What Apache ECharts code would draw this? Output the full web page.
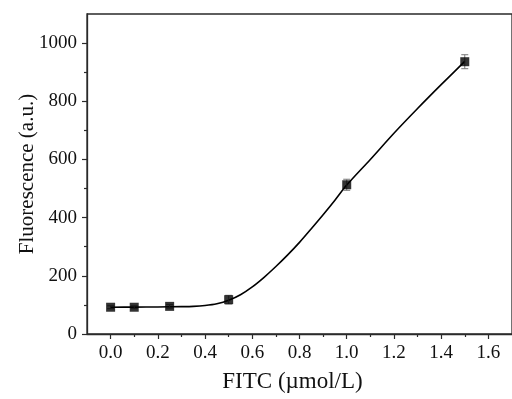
<!DOCTYPE html>
<html>
<head>
<meta charset="utf-8">
<script src="https://cdn.jsdelivr.net/npm/echarts@6/dist/echarts.min.js"></script>
<style>html,body{margin:0;padding:0;background:#fff}#c{width:512px;height:399px}</style>
</head>
<body>
<div id="c"></div>
<script>
// Measured points
const xData = [0, 0.1, 0.25, 0.5, 1.0, 1.5];
const yData = [92, 92, 95, 118, 513, 936];
const yErr = [5, 5, 6, 15, 19, 24];
// Fitted curve
const curveX = [0, 0.1, 0.2, 0.3, 0.35, 0.4, 0.45, 0.5, 0.55, 0.6, 0.65, 0.7, 0.75, 0.8, 0.85, 0.9, 0.95, 1.0, 1.1, 1.2, 1.3, 1.4, 1.5];
const curveY = [92, 92.5, 93, 94, 95, 98, 104, 116, 135, 162, 195, 232, 272, 315, 362, 410, 460, 512, 600, 690, 775, 857, 937];
// Tick values
const xMajor = [0, 0.2, 0.4, 0.6, 0.8, 1.0, 1.2, 1.4, 1.6];
const xMinor = [0.1, 0.3, 0.5, 0.7, 0.9, 1.1, 1.3, 1.5];
const yMajor = [0, 200, 400, 600, 800, 1000];
const yMinor = [100, 300, 500, 700, 900];

const font = 'Liberation Serif';
const axisCol = '#2a2a2a';
const chart = echarts.init(document.getElementById('c'), null, {renderer: 'canvas'});
const mk = (a, b) => a.map((v, i) => [v, b[i]]);
chart.setOption({
  animation: false,
  grid: {left: 87, top: 14, bottom: 65, right: -7, show: true, borderColor: axisCol, borderWidth: 1.3, backgroundColor: 'transparent'},
  xAxis: [
    {type: 'value', min: -0.1, max: 1.7, position: 'bottom',
     name: 'FITC (µmol/L)', nameLocation: 'middle', nameGap: 36, nameMoveOverlap: false,
     nameTextStyle: {fontFamily: font, fontSize: 23, color: '#111', padding: [0, 14, 0, 0]},
     axisLine: {onZero: false, lineStyle: {color: axisCol, width: 1.3}},
     axisTick: {customValues: xMajor, length: 5, lineStyle: {color: axisCol, width: 1.2}},
     axisLabel: {customValues: xMajor, margin: 10, fontFamily: font, fontSize: 19, color: '#111', formatter: v => v.toFixed(1)},
     splitLine: {show: false}},
    {type: 'value', min: -0.1, max: 1.7, position: 'bottom',
     axisLine: {show: false, onZero: false},
     axisTick: {customValues: xMinor, length: 3, lineStyle: {color: axisCol, width: 1.2}},
     axisLabel: {show: false}, splitLine: {show: false}}
  ],
  yAxis: [
    {type: 'value', min: 0, max: 1100, position: 'left',
     name: 'Fluorescence (a.u.)', nameLocation: 'middle', nameGap: 49, nameMoveOverlap: false,
     nameTextStyle: {fontFamily: font, fontSize: 21, color: '#111'},
     axisLine: {show: true, onZero: false, lineStyle: {color: axisCol, width: 1.3}},
     axisTick: {show: true, customValues: yMajor, length: 5, lineStyle: {color: axisCol, width: 1.2}},
     axisLabel: {customValues: yMajor, margin: 10, fontFamily: font, fontSize: 19, color: '#111', formatter: v => String(v)},
     splitLine: {show: false}},
    {type: 'value', min: 0, max: 1100, position: 'left',
     axisLine: {show: false, onZero: false},
     axisTick: {show: true, customValues: yMinor, length: 3, lineStyle: {color: axisCol, width: 1.2}},
     axisLabel: {show: false}, splitLine: {show: false}}
  ],
  series: [
    {type: 'line', data: mk(curveX, curveY), smooth: 0.3, showSymbol: false,
     lineStyle: {color: '#000', width: 1.6}, z: 2},
    {type: 'custom', z: 3,
     data: xData.map((x, i) => [x, yData[i] - yErr[i], yData[i] + yErr[i]]),
     renderItem: (params, api) => {
       const lo = api.coord([api.value(0), api.value(1)]);
       const hi = api.coord([api.value(0), api.value(2)]);
       const w = 3.5;
       const st = {stroke: '#777', lineWidth: 1};
       return {type: 'group', children: [
         {type: 'line', shape: {x1: lo[0], y1: lo[1], x2: hi[0], y2: hi[1]}, style: st},
         {type: 'line', shape: {x1: lo[0]-w, y1: lo[1], x2: lo[0]+w, y2: lo[1]}, style: st},
         {type: 'line', shape: {x1: hi[0]-w, y1: hi[1], x2: hi[0]+w, y2: hi[1]}, style: st}
       ]};
     }},
    {type: 'scatter', data: mk(xData, yData), symbol: 'rect', symbolSize: 9,
     itemStyle: {color: '#000'}, z: 4}
  ]
});
</script>
</body>
</html>
